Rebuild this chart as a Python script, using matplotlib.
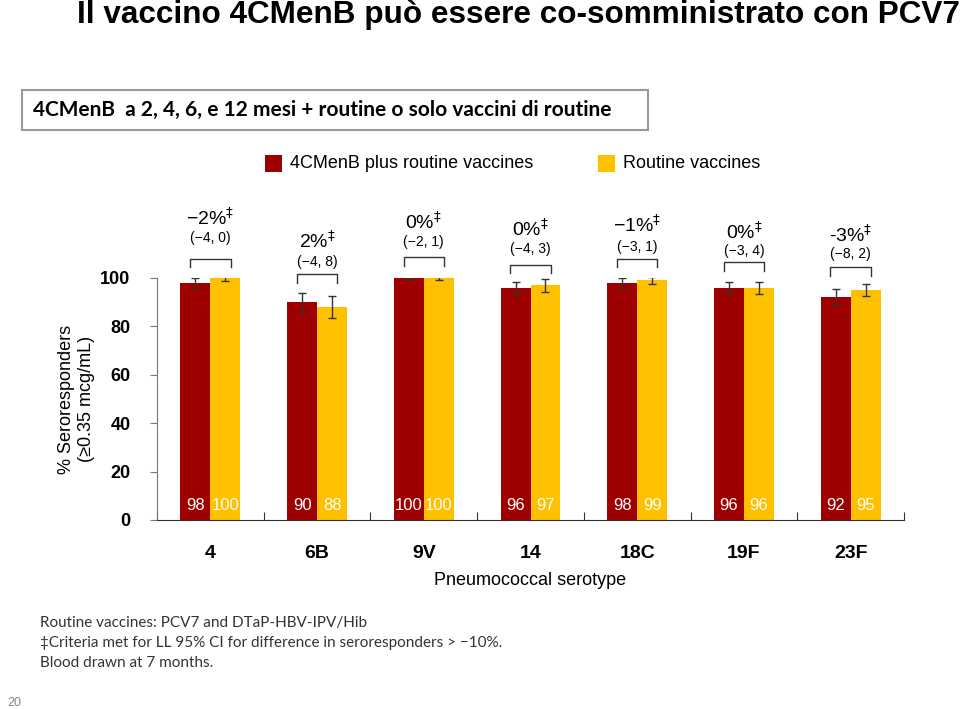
import matplotlib
matplotlib.use('Agg')
import matplotlib.pyplot as plt
import numpy as np

serotypes = ['4', '6B', '9V', '14', '18C', '19F', '23F']
menb = [98, 90, 100, 96, 98, 96, 92]
routine = [100, 88, 100, 97, 99, 96, 95]
menb_err = [2, 4, 1, 2.5, 2, 2.5, 3.3]
routine_err = [1.3, 4.5, 1, 2.7, 1.5, 2.5, 2.5]
diff_labels = ['\u22122%', '2%', '0%', '0%', '\u22121%', '0%', '-3%']
ci_labels = ['(\u22124, 0)', '(\u22124, 8)', '(\u22122, 1)', '(\u22124, 3)',
             '(\u22123, 1)', '(\u22123, 4)', '(\u22128, 2)']
# heights (data units) of difference label, CI label and bracket for each group
diff_y = [125, 115.5, 123, 120.5, 122, 119, 118]
ci_y = [116.5, 106.5, 115, 112, 113, 111, 110]
bracket_y = [108, 101.5, 108.5, 105.5, 108, 106.5, 104.5]

red = '#9E0000'
yellow = '#FFC000'

plt.rcParams['font.family'] = ['Liberation Sans', 'DejaVu Sans']

fig = plt.figure(figsize=(9.6, 7.09), dpi=100)
ax = fig.add_axes([157/960, 1-520/709, (904-157)/960, (520-278)/709])

x = np.arange(len(serotypes))
w = 0.28
ax.bar(x - w/2, menb, w, color=red, yerr=menb_err,
       error_kw=dict(ecolor='#333333', elinewidth=1, capsize=3, capthick=1))
ax.bar(x + w/2, routine, w, color=yellow, yerr=routine_err,
       error_kw=dict(ecolor='#333333', elinewidth=1, capsize=3, capthick=1))

for i in range(len(serotypes)):
    ax.text(x[i] - w/2, 6, str(menb[i]), color='white', ha='center', va='center', fontsize=12)
    ax.text(x[i] + w/2, 6, str(routine[i]), color='white', ha='center', va='center', fontsize=12)
    ax.text(x[i], diff_y[i], diff_labels[i] + '$^{\u2021}$', ha='center', va='center',
            fontsize=14, clip_on=False)
    ax.text(x[i], ci_y[i], ci_labels[i], ha='center', va='center', fontsize=10, clip_on=False)
    ax.plot([x[i] - 0.19, x[i] - 0.19, x[i] + 0.19, x[i] + 0.19],
            [bracket_y[i] - 3.5, bracket_y[i], bracket_y[i], bracket_y[i] - 3.5],
            color='#333333', lw=1, clip_on=False)

ax.set_xlim(-0.5, len(serotypes) - 0.5)
ax.set_ylim(0, 100)
ax.set_yticks([0, 20, 40, 60, 80, 100])
ax.set_yticklabels(['0', '20', '40', '60', '80', '100'], fontweight='bold', fontsize=13)
ax.set_xticks(np.arange(-0.5, len(serotypes)), minor=False)
ax.set_xticklabels([])
ax.set_xticks(x, minor=True)
ax.set_xticklabels(serotypes, minor=True, fontweight='bold', fontsize=14)
ax.tick_params(axis='x', which='minor', length=0, pad=18)
ax.tick_params(axis='x', which='major', length=6, direction='in', color='#333333')
ax.tick_params(axis='y', length=5, color='#777777', pad=14)
ax.spines['top'].set_visible(False)
ax.spines['right'].set_visible(False)
ax.spines['left'].set_color('#777777')
ax.spines['bottom'].set_color('#333333')
ax.set_xlabel('Pneumococcal serotype', fontsize=13, labelpad=7)
ax.set_ylabel('% Seroresponders\n(\u22650.35 mcg/mL)', fontsize=13, labelpad=4)

fig.text(0.9995, 1-15/709, 'Il vaccino 4CMenB pu\u00f2 essere co-somministrato con PCV7',
         ha='right', va='center', fontsize=22.7, fontweight='bold',
         family=['Liberation Sans Narrow', 'Liberation Sans'])

fig.patches.append(plt.Rectangle((22/960, 1-130/709), 626/960, 40/709, transform=fig.transFigure,
                                 facecolor='white', edgecolor='#A09890', lw=1.5))
fig.text(33/960, 1-110/709, '4CMenB  a 2, 4, 6, e 12 mesi + routine o solo vaccini di routine',
         ha='left', va='center', fontsize=15, family=['Lato', 'DejaVu Sans'],
         fontweight='bold')

fig.patches.append(plt.Rectangle((265/960, 1-172/709), 17/960, 17/709, transform=fig.transFigure,
                                 facecolor=red, edgecolor='none'))
fig.text(290/960, 1-163/709, '4CMenB plus routine vaccines', ha='left', va='center', fontsize=13)
fig.patches.append(plt.Rectangle((598/960, 1-172/709), 17/960, 17/709, transform=fig.transFigure,
                                 facecolor=yellow, edgecolor='none'))
fig.text(623/960, 1-163/709, 'Routine vaccines', ha='left', va='center', fontsize=13)

notes = ['Routine vaccines: PCV7 and DTaP-HBV-IPV/Hib',
         '\u2021Criteria met for LL 95% CI for difference in seroresponders > \u221210%.',
         'Blood drawn at 7 months.']
for k, line in enumerate(notes):
    fig.text(40/960, 1-(623+20*k)/709, line, ha='left', va='center', fontsize=11,
             color='#333333', family=['Lato', 'DejaVu Sans'])
fig.text(7/960, 1-703/709, '20', ha='left', va='center', fontsize=9, color='#888888')

fig.savefig('out.png', dpi=100)
